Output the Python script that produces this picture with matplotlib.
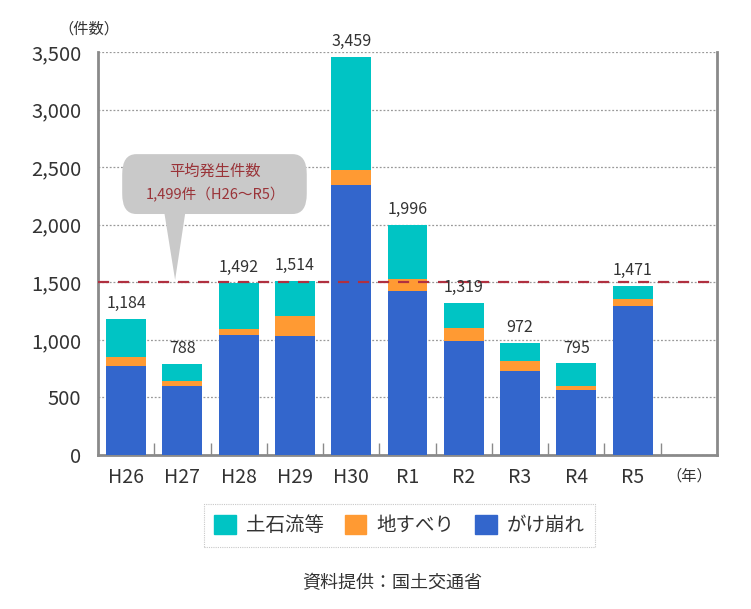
import matplotlib
matplotlib.use("Agg")
import matplotlib.pyplot as plt
from matplotlib.patches import FancyBboxPatch, Polygon, Patch
import numpy as np

plt.rcParams['font.family'] = ['Noto Sans CJK JP', 'DejaVu Sans']

years = ["H26", "H27", "H28", "H29", "H30", "R1", "R2", "R3", "R4", "R5"]
gake = [775, 602, 1042, 1031, 2343, 1425, 992, 733, 565, 1294]        # がけ崩れ
jisuberi = [75, 43, 52, 176, 136, 107, 108, 82, 34, 58]               # 地すべり
dosekiryu = [334, 143, 398, 307, 980, 464, 219, 157, 196, 119]        # 土石流等
totals = [1184, 788, 1492, 1514, 3459, 1996, 1319, 972, 795, 1471]
average = 1499
yticks = [0, 500, 1000, 1500, 2000, 2500, 3000, 3500]

c_dos = "#00C4C4"
c_jis = "#FF9A33"
c_gak = "#3366CC"
txt = "#333333"
gray = "#8a8a8a"

fig = plt.figure(figsize=(7.51, 6.09), dpi=100)
ax = fig.add_axes([0.1305, 0.2529, 0.8242, 0.6617])

x = np.arange(len(years))
w = 0.71
g = np.array(gake)
j = np.array(jisuberi)
d = np.array(dosekiryu)
ax.bar(x, g, w, color=c_gak, zorder=3)
ax.bar(x, j, w, bottom=g, color=c_jis, zorder=3)
ax.bar(x, d, w, bottom=g + j, color=c_dos, zorder=3)

for xi, t in zip(x, totals):
    ax.text(xi, t + 60, f"{t:,}", ha="center", va="bottom", fontsize=11.5, color=txt, zorder=5)

ax.set_xlim(-0.5, 10.5)
ax.set_ylim(0, 3500)
ax.set_yticks(yticks)
ax.set_yticklabels([f"{v:,}" for v in yticks], fontsize=14.5, color=txt)
ax.set_xticks(list(x) + [10])
ax.set_xticklabels(years + ["（年）"], color=txt)
for lbl in ax.get_xticklabels()[:-1]:
    lbl.set_fontsize(14)
ax.get_xticklabels()[-1].set_fontsize(11)
ax.tick_params(axis="x", length=0, pad=9)
ax.tick_params(axis="y", length=0, pad=12)
ax.set_xticks(np.arange(0.5, 10.0, 1.0), minor=True)
ax.tick_params(axis="x", which="minor", direction="in", length=9, color=gray, width=1)

ax.grid(axis="y", linestyle=(0, (1.5, 1.5)), color="#999999", linewidth=0.9, zorder=0)
for s in ["left", "right", "bottom"]:
    ax.spines[s].set_color(gray)
    ax.spines[s].set_linewidth(2)
ax.spines["top"].set_visible(False)

ax.axhline(average, color="#B03040", linestyle=(0, (5, 4)), linewidth=1.6, zorder=4)

# callout
box = FancyBboxPatch((-0.07, 2093), 3.28, 520,
                     boxstyle="round,pad=0,rounding_size=0.25",
                     mutation_aspect=700, facecolor="#C9C9C9", edgecolor="none", zorder=6)
ax.add_patch(box)
tri = Polygon([(0.68, 2100), (1.05, 2100), (0.87, 1520)], closed=True,
              facecolor="#C9C9C9", edgecolor="none", zorder=6)
ax.add_patch(tri)
ax.text(1.58, 2467, "平均発生件数", ha="center", va="center", fontsize=11, color="#9A3338", zorder=7)
ax.text(1.58, 2262, "1,499件（H26～R5）", ha="center", va="center", fontsize=10.5, color="#9A3338", zorder=7)

fig.text(0.118, 0.952, "（件数）", ha="center", va="center", fontsize=11, color=txt)

handles = [Patch(color=c_dos, label="土石流等"),
           Patch(color=c_jis, label="地すべり"),
           Patch(color=c_gak, label="がけ崩れ")]
leg = fig.legend(handles=handles, loc="center", bbox_to_anchor=(0.532, 0.137), ncol=3,
                 fontsize=14, frameon=True, fancybox=False, handlelength=1.1, handleheight=1.1,
                 handletextpad=0.5, columnspacing=1.1, borderpad=0.55)
leg.get_frame().set_edgecolor("#BBBBBB")
leg.get_frame().set_linestyle((0, (1, 1)))
leg.get_frame().set_linewidth(0.8)
for t in leg.get_texts():
    t.set_color(txt)

fig.text(0.522, 0.043, "資料提供：国土交通省", ha="center", va="center", fontsize=13, color=txt)

fig.savefig("out.png", dpi=100, facecolor="white")
